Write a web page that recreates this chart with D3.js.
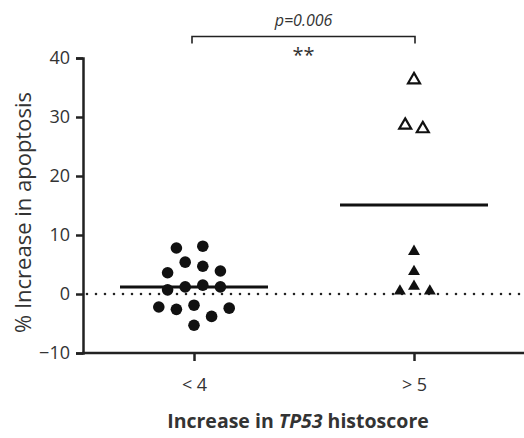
<!DOCTYPE html>
<html>
<head>
    <meta charset="UTF-8">
    <title>TP53 histoscore vs apoptosis</title>
    <script src="https://cdn.jsdelivr.net/npm/d3@7"></script>
    <style>
        body { margin: 0; background: #fff; }
        text { font-family: "Open Sans", "DejaVu Sans", sans-serif; fill: #333; }
    </style>
</head>
<body>
<div id="chart"></div>
<script>

    // Categories and tick labels
    var groups = ["low", "high"];
    var groupLabels = ["< 4", "> 5"];
    var yTicks = [-10, 0, 10, 20, 30, 40];

    // Increase TP53 histoscore < 4 (filled circles); slot = horizontal jitter slot
    var lowValues = [7.8, 8.1, 5.4, 4.7, 3.9, 3.6, 0.7, 1.2, 1.5, 1.2, -2.2, -2.6, -1.9, -3.8, -2.4, -5.3];
    var lowSlots  = [-2, 1, -1, 1, 3, -3, -3, -1, 1, 3, -4, -2, 0, 2, 4, 0];

    // Increase TP53 histoscore > 5: open triangles and filled triangles
    var highOpenValues = [36.3, 28.6, 28.0];
    var highOpenSlots  = [0, -1, 1];
    var highFilledValues = [7.2, 3.8, 1.3, 0.5, 0.5];
    var highFilledSlots  = [0, 0, 0, -1.6, 1.8];

    // Group means shown as horizontal lines
    var means = [1.2, 15.1];

    var pLabel = "p=0.006";
    var sigLabel = "**";

    var width = 524, height = 438;
    var margin = {top: 58, right: 0, bottom: 85, left: 83};

    var svg = d3.select("#chart").append("svg")
        .attr("width", width)
        .attr("height", height);

    var x = d3.scalePoint()
        .domain(groups)
        .range([194, 414]);

    var y = d3.scaleLinear()
        .domain([-10, 40])
        .range([height - margin.bottom, margin.top]);

    var slotW = 8.8;

    // zero reference line (dotted)
    svg.append("line")
        .attr("x1", margin.left + 4)
        .attr("x2", width)
        .attr("y1", y(0))
        .attr("y2", y(0))
        .attr("stroke", "#222")
        .attr("stroke-width", 2.6)
        .attr("stroke-linecap", "round")
        .attr("stroke-dasharray", "0,9");

    // Y axis
    var yAxis = svg.append("g")
        .attr("transform", "translate(" + margin.left + ",0)")
        .call(d3.axisLeft(y).tickValues(yTicks).tickSize(7).tickPadding(6));
    yAxis.select(".domain").attr("stroke", "#222").attr("stroke-width", 2.5);
    yAxis.selectAll(".tick line").attr("stroke", "#222").attr("stroke-width", 2.5);
    yAxis.selectAll(".tick text")
        .style("font-size", "18px")
        .style("font-family", "'Open Sans', sans-serif")
        .attr("fill", "#333");

    // X axis
    svg.append("line")
        .attr("x1", margin.left - 1)
        .attr("x2", width)
        .attr("y1", y(-10))
        .attr("y2", y(-10))
        .attr("stroke", "#222")
        .attr("stroke-width", 2.5);

    var xAxis = svg.append("g")
        .attr("transform", "translate(0," + y(-10) + ")")
        .call(d3.axisBottom(x).tickSize(8).tickPadding(17).tickFormat(function (d, i) {
            return groupLabels[i];
        }));
    xAxis.select(".domain").remove();
    xAxis.selectAll(".tick line").attr("stroke", "#222").attr("stroke-width", 2.5);
    xAxis.selectAll(".tick text")
        .style("font-size", "18px")
        .style("font-family", "'Open Sans', sans-serif")
        .attr("fill", "#333");

    // Axis titles
    svg.append("text")
        .attr("transform", "translate(31,212.5) rotate(-90)")
        .attr("text-anchor", "middle")
        .style("font-size", "22px")
        .text("% Increase in apoptosis");

    var xt = svg.append("text")
        .attr("x", 298)
        .attr("y", 428)
        .attr("text-anchor", "middle")
        .style("font-size", "19.5px")
        .style("font-weight", "bold");
    xt.append("tspan").text("Increase in ");
    xt.append("tspan").style("font-style", "italic").text("TP53");
    xt.append("tspan").text(" histoscore");

    // Mean lines
    svg.selectAll(".mean")
        .data(means)
        .enter().append("line")
        .attr("class", "mean")
        .attr("x1", function (d, i) { return x(groups[i]) - 74; })
        .attr("x2", function (d, i) { return x(groups[i]) + 74; })
        .attr("y1", function (d) { return y(d); })
        .attr("y2", function (d) { return y(d); })
        .attr("stroke", "#111")
        .attr("stroke-width", 3);

    // Low group circles
    svg.selectAll(".dot")
        .data(lowValues)
        .enter().append("circle")
        .attr("class", "dot")
        .attr("cx", function (d, i) { return x("low") + lowSlots[i] * slotW; })
        .attr("cy", function (d) { return y(d); })
        .attr("r", 5.8)
        .attr("fill", "#111");

    var tri = d3.symbol().type(d3.symbolTriangle).size(62);

    svg.selectAll(".tri-open")
        .data(highOpenValues)
        .enter().append("path")
        .attr("class", "tri-open")
        .attr("d", tri)
        .attr("transform", function (d, i) {
            return "translate(" + (x("high") + highOpenSlots[i] * slotW) + "," + y(d) + ")";
        })
        .attr("fill", "#fff")
        .attr("stroke", "#111")
        .attr("stroke-width", 2.2);

    svg.selectAll(".tri-fill")
        .data(highFilledValues)
        .enter().append("path")
        .attr("class", "tri-fill")
        .attr("d", tri)
        .attr("transform", function (d, i) {
            return "translate(" + (x("high") + highFilledSlots[i] * slotW) + "," + y(d) + ")";
        })
        .attr("fill", "#111");

    // Significance bracket
    var bx1 = x("low") - 2, bx2 = x("high") + 1, by = 36.5;
    svg.append("path")
        .attr("d", "M" + bx1 + "," + (by + 7) + "V" + by + "H" + bx2 + "V" + (by + 7))
        .attr("fill", "none")
        .attr("stroke", "#222")
        .attr("stroke-width", 1.6);

    svg.append("text")
        .attr("x", (bx1 + bx2) / 2)
        .attr("y", 26)
        .attr("text-anchor", "middle")
        .style("font-size", "16px")
        .style("font-style", "italic")
        .text(pLabel);

    svg.append("text")
        .attr("x", (bx1 + bx2) / 2)
        .attr("y", 62)
        .attr("text-anchor", "middle")
        .style("font-size", "20px")
        .text(sigLabel);

</script>
</body>
</html>
